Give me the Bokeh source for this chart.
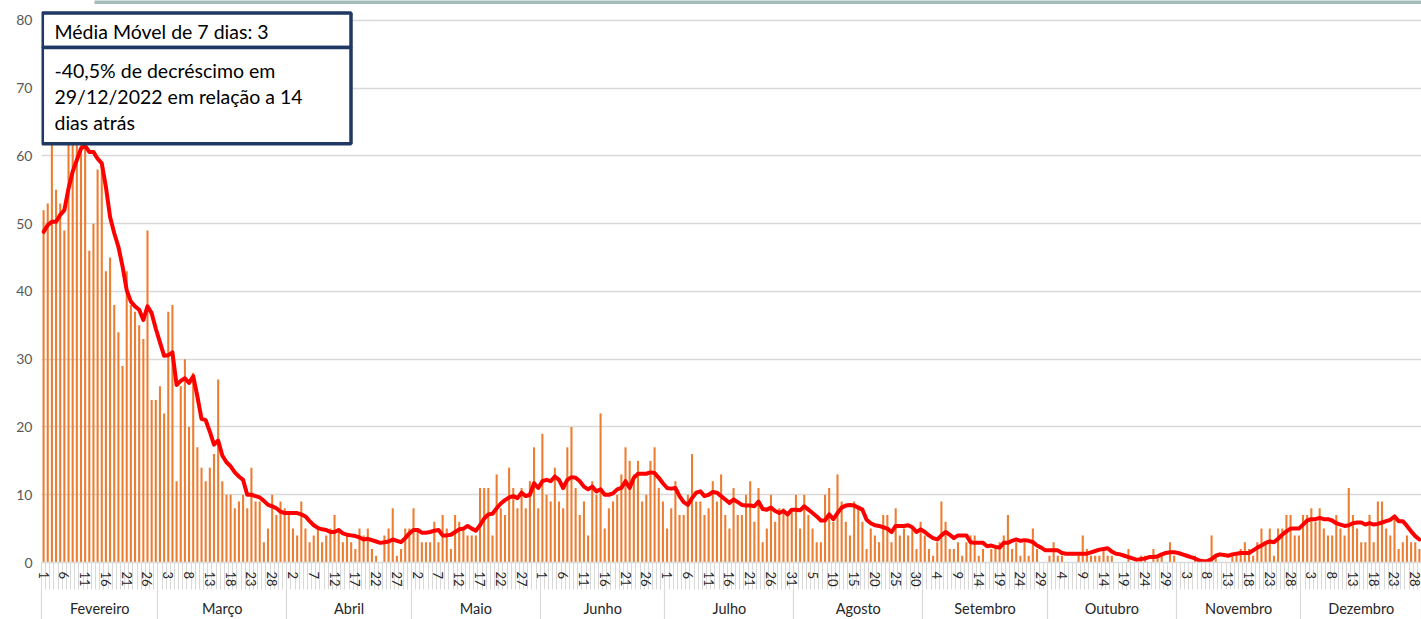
from bokeh.plotting import figure
from bokeh.models import (ColumnDataSource, FixedTicker, LinearAxis, Range1d,
                          BoxAnnotation, Label)
from bokeh.embed import file_html
from bokeh.resources import INLINE

# ---------------- data ----------------
meses = ["Fevereiro", "Março", "Abril", "Maio", "Junho", "Julho", "Agosto",
         "Setembro", "Outubro", "Novembro", "Dezembro"]

casos_fev = [52, 53, 66, 55, 53, 49, 68, 64, 62, 66, 68, 46, 50, 58, 59, 43, 45, 38, 34, 29,
             43, 38, 37, 35, 33, 49, 24, 24]
casos_mar = [26, 22, 37, 38, 12, 26, 30, 20, 28, 17, 14, 12, 14, 16, 27, 12, 10, 10, 8, 9,
             10, 8, 14, 9, 9, 3, 5, 10, 7, 9, 8]
casos_abr = [7, 5, 4, 9, 5, 3, 4, 5, 3, 4, 5, 7, 5, 3, 4, 3, 2, 5, 4, 5,
             2, 1, 0, 4, 5, 8, 1, 2, 5, 5]
casos_mai = [8, 5, 3, 3, 3, 6, 3, 7, 5, 2, 7, 6, 5, 4, 4, 4, 11, 11, 11, 4,
             13, 8, 7, 14, 11, 8, 11, 8, 12, 17, 8]
casos_jun = [19, 10, 9, 14, 9, 8, 17, 20, 11, 7, 9, 4, 12, 10, 22, 5, 8, 9, 10, 13,
             17, 15, 13, 15, 9, 10, 15, 17, 11, 9]
casos_jul = [5, 8, 12, 7, 7, 10, 16, 9, 9, 7, 8, 12, 9, 13, 7, 5, 11, 7, 7, 10,
             12, 6, 11, 3, 5, 10, 6, 8, 8, 7, 8]
casos_ago = [10, 5, 10, 7, 5, 3, 3, 10, 11, 6, 13, 9, 6, 4, 9, 8, 6, 2, 5, 4,
             3, 7, 7, 3, 8, 4, 5, 4, 5, 2, 6]
casos_set = [4, 2, 1, 3, 9, 6, 2, 2, 3, 1, 3, 4, 4, 1, 2, 0, 2, 2, 3, 4,
             7, 2, 3, 1, 3, 1, 5, 2, 0, 0]
casos_out = [1, 3, 1, 1, 0, 0, 0, 1, 4, 2, 1, 1, 1, 2, 1, 1, 0, 0, 0, 2,
             0, 0, 1, 1, 0, 2, 1, 1, 0, 3, 1]
casos_nov = [0, 0, 0, 0, 1, 0, 0, 0, 4, 1, 0, 0, 0, 1, 1, 2, 3, 2, 1, 3,
             5, 3, 5, 1, 5, 5, 7, 7, 4, 4]
casos_dez = [7, 7, 8, 6, 8, 5, 4, 4, 7, 5, 4, 11, 7, 5, 3, 3, 7, 3, 9, 9,
             5, 4, 7, 2, 3, 4, 3, 3, 2]

mm_fev = [48.8, 49.8, 50.3, 50.3, 51.3, 52.0, 55.2, 57.7, 59.4, 61.1, 61.5, 60.6, 60.6, 59.6,
          58.9, 55.4, 51.0, 48.6, 46.6, 43.7, 40.2, 38.5, 37.8, 37.3, 35.8, 37.8, 36.8, 34.5]
mm_mar = [32.5, 30.5, 30.6, 31.0, 26.2, 26.8, 27.2, 26.5, 27.5, 24.5, 21.2, 21.0, 19.3, 17.4,
          18.0, 15.8, 14.8, 14.2, 13.3, 12.7, 12.2, 10.0, 10.0, 9.8, 9.6, 9.1, 8.5, 8.3, 8.0,
          7.5, 7.3]
mm_abr = [7.3, 7.3, 7.3, 7.1, 6.8, 6.1, 5.5, 5.1, 4.9, 4.8, 4.5, 4.5, 4.8, 4.3, 4.1, 4.0,
          3.9, 3.7, 3.4, 3.5, 3.3, 3.1, 2.9, 3.0, 3.1, 3.4, 3.2, 3.0, 3.6, 4.3]
mm_mai = [4.8, 4.8, 4.4, 4.4, 4.5, 4.7, 4.8, 4.0, 4.0, 4.1, 4.5, 4.9, 5.0, 5.4, 5.0, 4.7,
          5.5, 6.5, 7.1, 7.2, 8.0, 8.7, 9.2, 9.6, 9.8, 9.5, 10.3, 9.8, 10.0, 11.7, 11.0]
mm_jun = [12.0, 12.2, 12.0, 12.7, 12.2, 11.0, 12.2, 12.6, 12.5, 12.0, 11.2, 10.8, 11.2, 10.5,
          10.8, 10.0, 10.0, 10.2, 10.8, 11.0, 12.0, 11.0, 12.5, 13.1, 13.1, 13.1, 13.3, 13.2,
          12.5, 11.7]
mm_jul = [11.0, 10.9, 11.0, 9.8, 8.9, 8.5, 9.5, 10.3, 10.5, 9.8, 10.0, 10.4, 10.3, 9.8, 9.3,
          8.8, 9.3, 8.9, 8.5, 8.4, 8.4, 8.3, 9.0, 7.9, 7.8, 8.1, 7.6, 7.3, 7.6, 7.1, 7.8]
mm_ago = [7.8, 7.7, 8.3, 7.8, 7.3, 6.8, 6.2, 6.2, 7.1, 6.4, 7.3, 8.1, 8.4, 8.5, 8.4, 8.1,
          7.8, 6.3, 5.8, 5.5, 5.4, 5.2, 5.0, 4.5, 5.4, 5.4, 5.4, 5.5, 5.2, 4.5, 4.9]
mm_set = [4.5, 4.0, 3.6, 3.4, 4.0, 4.5, 4.1, 3.6, 4.0, 4.0, 4.0, 3.0, 2.9, 2.9, 2.9, 2.4,
          2.5, 2.3, 2.2, 2.9, 2.9, 3.2, 3.4, 3.2, 3.3, 3.2, 3.0, 2.5, 2.2, 1.8]
mm_out = [1.8, 1.8, 1.8, 1.4, 1.3, 1.3, 1.3, 1.3, 1.3, 1.3, 1.5, 1.7, 1.9, 2.0, 2.1, 1.6,
          1.3, 1.2, 1.0, 0.8, 0.6, 0.4, 0.5, 0.6, 0.8, 0.8, 0.9, 1.2, 1.4, 1.5, 1.5]
mm_nov = [1.4, 1.2, 1.0, 0.8, 0.6, 0.3, 0.2, 0.2, 0.5, 1.0, 1.2, 1.1, 1.0, 1.2, 1.3, 1.4,
          1.4, 1.4, 1.8, 2.2, 2.5, 2.9, 3.1, 3.0, 3.5, 4.1, 4.6, 5.0, 5.0, 5.0]
mm_dez = [5.6, 6.2, 6.4, 6.4, 6.6, 6.4, 6.4, 6.2, 5.8, 5.6, 5.4, 5.5, 5.8, 5.9, 5.9, 5.6,
          5.8, 5.6, 5.7, 5.9, 6.1, 6.3, 6.8, 6.1, 6.1, 5.4, 4.6, 3.9, 3.4]

y_ticks = [0, 10, 20, 30, 40, 50, 60, 70, 80]

caixa_textos = ["Média Móvel de 7 dias: 3",
                "-40,5% de decréscimo em",
                "29/12/2022  em relação a 14",
                "dias atrás"]

casos_por_mes = [casos_fev, casos_mar, casos_abr, casos_mai, casos_jun, casos_jul,
                 casos_ago, casos_set, casos_out, casos_nov, casos_dez]
mm_por_mes = [mm_fev, mm_mar, mm_abr, mm_mai, mm_jun, mm_jul, mm_ago, mm_set,
              mm_out, mm_nov, mm_dez]

# ---------------- build the series ----------------
casos, mm, dia = [], [], []
limites = [-0.5]
for c, m in zip(casos_por_mes, mm_por_mes):
    for d, (cv, mv) in enumerate(zip(c, m), start=1):
        casos.append(cv)
        mm.append(mv)
        dia.append(d)
    limites.append(limites[-1] + len(c))
n = len(casos)
src = ColumnDataSource(dict(x=list(range(n)), casos=casos, mm=mm))

# ---------------- layout constants (page pixels) ----------------
FONT = "Lato"
W, H = 1421, 619
FL, FT, FB, FR = 41, 0, 563, 1421
ux = (FR - FL) / n
uy = 6.7875
y_end = (FB - FT) / uy


def dx(px):
    return -0.5 + (px - FL) / ux


def dy(py):
    return (FB - py) / uy


p = figure(width=W, height=H, output_backend="svg", toolbar_location=None,
           x_range=Range1d(-0.5, n - 0.5), y_range=Range1d(0, y_end),
           x_axis_location=None,
           min_border_left=FL, min_border_right=W - FR, min_border_top=FT,
           min_border_bottom=H - FB)
p.outline_line_color = None
p.background_fill_color = "white"
p.border_fill_color = "white"

p.vbar(x="x", top="casos", width=0.5, fill_color="#ED7D31", line_color=None, source=src)
p.line(x="x", y="mm", line_color="#FF0000", line_width=4, line_join="round",
       line_cap="round", source=src)

# y axis
p.yaxis.ticker = FixedTicker(ticks=y_ticks)
p.yaxis.axis_line_color = None
p.yaxis.major_tick_line_color = None
p.yaxis.minor_tick_line_color = None
p.yaxis.major_label_standoff = 3
p.yaxis.major_label_text_font = FONT
p.yaxis.major_label_text_font_size = "14px"
p.yaxis.major_label_text_color = "#595959"
p.ygrid.grid_line_color = "#d9d9d9"
p.ygrid.grid_line_width = 1.5
p.xgrid.grid_line_color = None

# day axis: labels every 5 days, a light comb between all days
COMB = 27
ticks_dia = list(range(0, n, 5))
ax_d = LinearAxis(ticker=FixedTicker(ticks=ticks_dia,
                                     minor_ticks=[i - 0.5 for i in range(n + 1)]))
ax_d.major_label_overrides = {t: str(dia[t]) for t in ticks_dia}
ax_d.major_label_orientation = "vertical"
ax_d.major_tick_line_color = None
ax_d.major_tick_out = 0
ax_d.major_tick_in = 0
ax_d.minor_tick_line_color = "#d9d9d9"
ax_d.minor_tick_out = COMB
ax_d.minor_tick_in = 0
ax_d.axis_line_color = "#d9d9d9"
ax_d.axis_line_width = 1.5
ax_d.major_label_standoff = 9 - COMB
ax_d.major_label_text_font = FONT
ax_d.major_label_text_font_size = "13px"
ax_d.major_label_text_color = "#262626"
p.add_layout(ax_d, "below")

# month axis: names centred in each month, separators at month limits
SEP = 30
centros = [(limites[i] + limites[i + 1]) / 2 for i in range(len(meses))]
ax_m = LinearAxis(ticker=FixedTicker(ticks=centros, minor_ticks=limites))
ax_m.major_label_overrides = {c: nome for c, nome in zip(centros, meses)}
ax_m.axis_line_color = None
ax_m.major_tick_line_color = None
ax_m.major_tick_out = 0
ax_m.major_tick_in = 0
ax_m.minor_tick_line_color = "#d9d9d9"
ax_m.minor_tick_line_width = 1.2
ax_m.minor_tick_out = SEP
ax_m.minor_tick_in = 0
ax_m.major_label_standoff = 10 - SEP
ax_m.major_label_text_font = FONT
ax_m.major_label_text_font_size = "14.5px"
ax_m.major_label_text_color = "#262626"
p.add_layout(ax_m, "below")

# strip of the slide header at the very top
p.add_layout(BoxAnnotation(left=dx(94), right=dx(FR + 2), top=y_end + 1, bottom=dy(3.5),
                           fill_color="#A3BDBB", fill_alpha=1.0, line_color=None))

# text box
for top, bottom in [(12.5, 47), (47, 143.5)]:
    p.add_layout(BoxAnnotation(left=dx(41.8), right=dx(350.5), top=dy(top), bottom=dy(bottom),
                               fill_color="white", fill_alpha=1.0,
                               line_color="#1F3864", line_width=3.5, line_alpha=1.0))
for t, yy in zip(caixa_textos, [31, 70.5, 96.5, 122]):
    p.add_layout(Label(x=dx(54), y=dy(yy), text=t, text_font=FONT,
                       text_font_size="19.5px", text_baseline="middle",
                       text_align="left", text_color="#000000"))

open("out.html", "w").write(file_html(p, INLINE))
